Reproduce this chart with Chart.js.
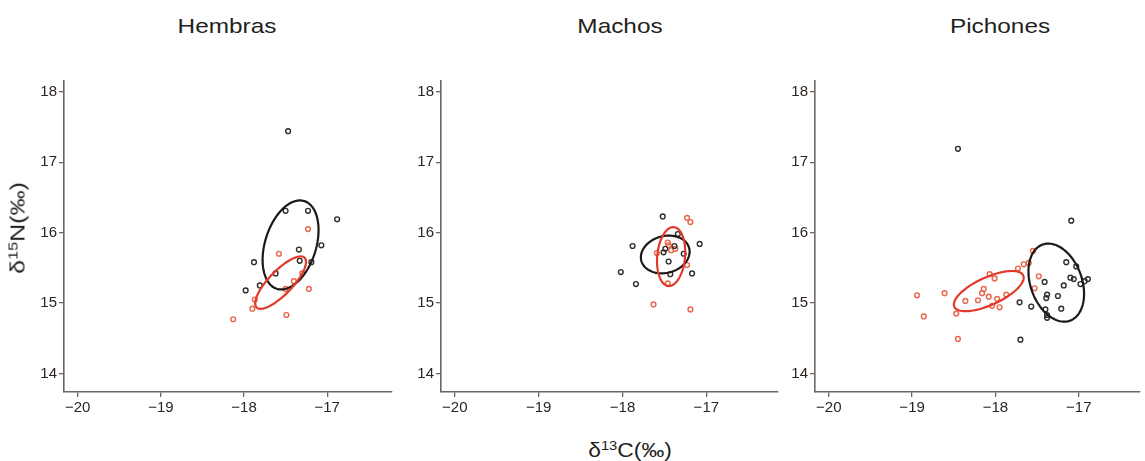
<!DOCTYPE html>
<html lang="es">
<head>
<meta charset="UTF-8">
<title>δ13C / δ15N</title>
<script src="https://cdn.jsdelivr.net/npm/chart.js@4.4.1/dist/chart.umd.min.js"></script>
<style>
  body { margin: 0; background: #fff; width: 1145px; height: 461px; position: relative; overflow: hidden;
         font-family: "Liberation Sans", Arial, sans-serif; color: #231f1c; }
  .panel { position: absolute; top: 70px; height: 362px; }
  .titulo { position: absolute; top: 14px; font-size: 21px; transform: translateX(-50%) scaleX(1.16); white-space: nowrap; }
  .eje { position: absolute; font-size: 20px; white-space: nowrap; }
  .eje sup { font-size: 13px; vertical-align: 7px; line-height: 0; }
  #ejeY { left: 18px; top: 228px; transform: translate(-50%, -50%) rotate(-90deg) scaleX(1.25); }
  #ejeX { left: 630px; top: 450px; transform: translate(-50%, -50%) scaleX(1.14); }
</style>
</head>
<body>
<div class="titulo" style="left:227px">Hembras</div>
<div class="titulo" style="left:620px">Machos</div>
<div class="titulo" style="left:1000px">Pichones</div>

<div class="panel" style="left:24px;width:373px"><canvas id="c1" width="373" height="362"></canvas></div>
<div class="panel" style="left:401px;width:382px"><canvas id="c2" width="382" height="362"></canvas></div>
<div class="panel" style="left:775px;width:370px"><canvas id="c3" width="370" height="362"></canvas></div>

<div class="eje" id="ejeY">δ<sup>15</sup>N(‰)</div>
<div class="eje" id="ejeX">δ<sup>13</sup>C(‰)</div>

<script>
// [δ13C, δ15N] por individuo
const hembrasNegro = [[-17.47,17.44],[-17.50,16.31],[-17.23,16.31],[-16.88,16.19],[-17.07,15.82],[-17.34,15.76],
  [-17.33,15.60],[-17.88,15.58],[-17.19,15.58],[-17.62,15.42],[-17.81,15.25],[-17.98,15.18]];
const hembrasRojo = [[-17.23,16.05],[-17.58,15.70],[-17.30,15.42],[-17.40,15.31],[-17.50,15.20],[-17.22,15.20],
  [-17.87,15.05],[-17.90,14.92],[-17.49,14.83],[-18.13,14.77]];

const machosNegro = [[-17.52,16.23],[-17.34,15.98],[-17.88,15.81],[-17.08,15.84],[-17.38,15.81],[-17.49,15.77],
  [-17.51,15.72],[-17.27,15.70],[-17.45,15.59],[-18.02,15.44],[-17.43,15.41],[-17.17,15.42],[-17.84,15.27]];
const machosRojo = [[-17.23,16.21],[-17.19,16.15],[-17.46,15.86],[-17.45,15.82],[-17.37,15.77],[-17.42,15.75],
  [-17.59,15.71],[-17.23,15.54],[-17.46,15.28],[-17.63,14.98],[-17.19,14.91]];

const pichonesNegro = [[-18.45,17.19],[-17.09,16.17],[-17.15,15.58],[-17.03,15.52],[-17.10,15.36],[-17.06,15.34],
  [-16.93,15.31],[-16.89,15.34],[-16.98,15.27],[-17.41,15.30],[-17.18,15.25],[-17.38,15.12],[-17.39,15.07],
  [-17.25,15.10],[-17.71,15.01],[-17.57,14.95],[-17.40,14.91],[-17.21,14.92],[-17.38,14.83],[-17.38,14.79],
  [-17.70,14.48]];
const pichonesRojo = [[-18.94,15.11],[-18.61,15.14],[-18.86,14.81],[-18.47,14.85],[-18.45,14.49],[-18.36,15.03],
  [-18.21,15.04],[-18.16,15.14],[-18.14,15.20],[-18.08,15.09],[-18.04,14.96],[-17.98,15.06],[-17.95,14.94],
  [-18.07,15.41],[-18.01,15.35],[-17.87,15.12],[-17.73,15.49],[-17.66,15.55],[-17.55,15.74],[-17.60,15.57],
  [-17.48,15.38],[-17.53,15.21]];

// elipses: centro [x, y], semiejes conjugados u y v (unidades de los datos)
const elipsesHembras = [
  { c: [-17.44, 15.825], u: [0.167, 0.622], v: [-0.292, 0.112], color: '#1c1917' },
  { c: [-17.56, 15.29], u: [0.289, 0.352], v: [-0.099, 0.12], color: '#e2392b' }
];
const elipsesMachos = [
  { c: [-17.49, 15.69], u: [0.285, 0.091], v: [-0.057, 0.252], color: '#1c1917' },
  { c: [-17.42, 15.66], u: [0.033, 0.418], v: [-0.165, 0.018], color: '#e2392b' }
];
const elipsesPichones = [
  { c: [-17.27, 15.29], u: [-0.165, 0.54], v: [0.29, 0.125], color: '#1c1917' },
  { c: [-18.08, 15.17], u: [0.413, 0.222], v: [-0.068, 0.179], color: '#e2392b' }
];

const ticksX = [-20, -19, -18, -17];
const ticksY = [14, 15, 16, 17, 18];

const colorEje = '#6f645e';
const fuente = { family: '"Liberation Sans", Arial, sans-serif', size: 15 };

const elipsePlugin = {
  id: 'elipses',
  afterDatasetsDraw(chart, args, opts) {
    const ctx = chart.ctx, sx = chart.scales.x, sy = chart.scales.y;
    ctx.save();
    ctx.lineWidth = 2.2;
    (opts.lista || []).forEach(e => {
      ctx.strokeStyle = e.color;
      ctx.beginPath();
      for (let i = 0; i <= 120; i++) {
        const t = i / 120 * Math.PI * 2;
        const x = e.c[0] + e.u[0] * Math.cos(t) + e.v[0] * Math.sin(t);
        const y = e.c[1] + e.u[1] * Math.cos(t) + e.v[1] * Math.sin(t);
        const px = sx.getPixelForValue(x), py = sy.getPixelForValue(y);
        if (i === 0) ctx.moveTo(px, py); else ctx.lineTo(px, py);
      }
      ctx.closePath();
      ctx.stroke();
    });
    ctx.restore();
  }
};

function puntos(lista) {
  return lista.map(p => ({ x: p[0], y: p[1] }));
}

function panel(id, negro, rojo, elipses, xMax) {
  new Chart(document.getElementById(id), {
    type: 'scatter',
    data: {
      datasets: [
        { data: puntos(negro), borderColor: '#342e2b', backgroundColor: 'rgba(0,0,0,0)',
          pointRadius: 2.4, borderWidth: 1.4 },
        { data: puntos(rojo), borderColor: '#e8664a', backgroundColor: 'rgba(0,0,0,0)',
          pointRadius: 2.4, borderWidth: 1.4 }
      ]
    },
    options: {
      responsive: false,
      animation: false,
      layout: { padding: { top: 8, right: 0, left: 0, bottom: 0 } },
      plugins: {
        legend: { display: false },
        tooltip: { enabled: false },
        elipses: { lista: elipses }
      },
      scales: {
        x: {
          type: 'linear',
          min: -20.165,
          max: xMax,
          afterFit: s => { s.height = 40; },
          afterBuildTicks: s => { s.ticks = ticksX.map(v => ({ value: v })); },
          border: { display: true, color: colorEje, width: 1.6 },
          grid: { display: true, drawOnChartArea: false, drawTicks: true, tickLength: 5, color: colorEje, lineWidth: 1.3 },
          ticks: { color: '#2a2522', font: fuente, padding: 2, maxRotation: 0,
                   callback: v => String(v).replace('-', '\u2212') }
        },
        y: {
          type: 'linear',
          min: 13.737,
          max: 18.153,
          afterFit: s => { s.width = 40; },
          afterBuildTicks: s => { s.ticks = ticksY.map(v => ({ value: v })); },
          border: { display: true, color: colorEje, width: 1.6 },
          grid: { display: true, drawOnChartArea: false, drawTicks: true, tickLength: 5, color: colorEje, lineWidth: 1.3 },
          ticks: { color: '#2a2522', font: fuente, padding: 2 }
        }
      }
    },
    plugins: [elipsePlugin]
  });
}

panel('c1', hembrasNegro, hembrasRojo, elipsesHembras, -16.225);
panel('c2', machosNegro, machosRojo, elipsesMachos, -16.15);
panel('c3', pichonesNegro, pichonesRojo, elipsesPichones, -16.27);
</script>
</body>
</html>
